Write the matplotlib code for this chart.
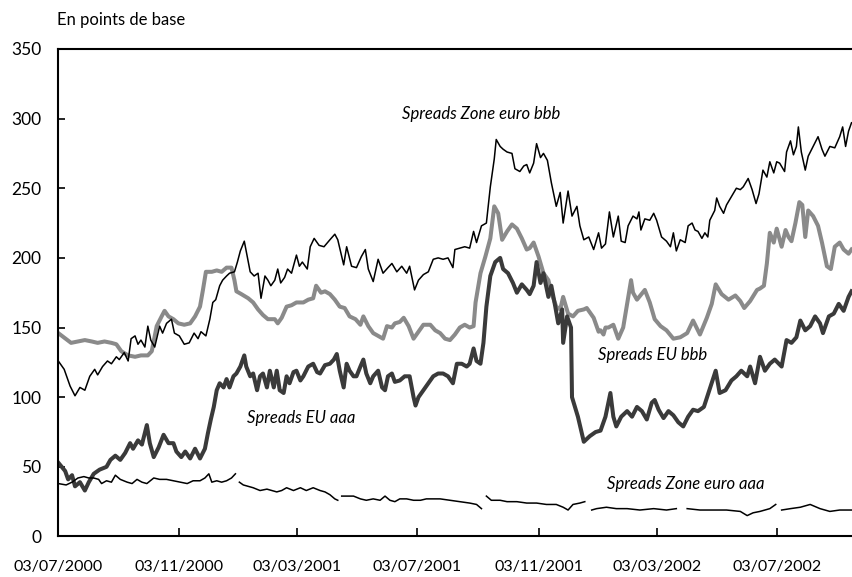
import matplotlib.pyplot as plt
import numpy as np
import pandas as pd

"""==============================================================
# Données (jours depuis le 03/07/2000, en points de base)
=============================================================="""
date_debut = "2000-07-03"
fin_jours = 806.5

# Spreads Zone euro bbb
jours_ze_bbb = [0, 6, 12, 17, 22, 27, 32, 37, 40, 45, 50, 54, 59, 62, 67, 71,
                74, 78, 81, 84, 88, 91, 94, 98, 103, 106, 110, 115, 118, 123,
                128, 133, 138, 142, 145, 150, 154, 157, 160, 164, 167, 171, 174,
                179, 182, 185, 189, 192, 195, 199, 203, 206, 210, 213, 216, 220,
                223, 226, 230, 233, 237, 242, 245, 248, 253, 256, 260, 265, 270,
                276, 281, 284, 290, 293, 298, 303, 308, 312, 315, 320, 325, 330,
                335, 339, 344, 349, 354, 357, 362, 366, 371, 376, 381, 386, 391,
                396, 401, 403, 408, 413, 418, 422, 425, 430, 435, 439, 443, 445,
                449, 452, 456, 461, 464, 469, 473, 476, 479, 483, 486, 490, 493,
                497, 501, 506, 510, 513, 518, 522, 527, 530, 534, 539, 544, 549,
                552, 556, 560, 564, 569, 572, 576, 579, 584, 588, 590, 592, 596,
                601, 605, 608, 613, 618, 622, 625, 628, 632, 637, 640, 644, 647,
                650, 654, 657, 660, 662, 667, 669, 672, 676, 679, 684, 689, 693,
                696, 701, 705, 709, 712, 716, 720, 723, 727, 730, 733, 738, 740,
                744, 747, 750, 752, 755, 759, 762, 767, 772, 776, 779, 784, 789,
                794, 797, 800, 803, 806]
ze_bbb = [126, 120, 108, 101, 107, 105, 115, 120, 116, 122, 126, 124, 129, 127,
          132, 126, 142, 144, 138, 141, 136, 151, 141, 136, 151, 146, 153, 156,
          146, 144, 138, 139, 146, 142, 147, 144, 156, 168, 170, 180, 184, 187,
          189, 190, 197, 205, 212, 201, 190, 187, 189, 171, 187, 184, 180, 184,
          192, 182, 186, 192, 189, 202, 194, 197, 192, 208, 214, 209, 208, 213,
          217, 213, 195, 208, 194, 193, 201, 206, 192, 183, 199, 189, 193, 196,
          190, 194, 189, 194, 177, 184, 188, 190, 199, 200, 199, 200, 193, 206,
          207, 208, 207, 219, 211, 223, 225, 251, 271, 285, 280, 278, 276, 275,
          264, 262, 266, 267, 261, 268, 282, 272, 275, 270, 254, 237, 247, 225,
          248, 230, 237, 223, 213, 215, 206, 218, 207, 210, 233, 215, 230, 212,
          211, 223, 230, 228, 233, 220, 228, 227, 232, 227, 215, 212, 208, 218,
          205, 213, 211, 223, 225, 220, 219, 214, 218, 215, 227, 234, 243, 237,
          232, 238, 244, 250, 249, 251, 257, 249, 239, 246, 263, 258, 269, 261,
          269, 268, 262, 276, 284, 274, 280, 294, 276, 263, 273, 280, 287, 278,
          273, 280, 279, 287, 294, 280, 291, 297]

# Spreads EU bbb
jours_eu_bbb = [0, 13, 20, 27, 34, 40, 47, 54, 59, 64, 71, 78, 84, 91, 95, 100,
                105, 108, 112, 117, 122, 128, 134, 139, 144, 147, 150, 156, 161,
                166, 171, 176, 179, 181, 186, 193, 198, 203, 208, 213, 220, 223,
                227, 232, 237, 242, 249, 254, 259, 262, 267, 271, 276, 281, 286,
                291, 296, 302, 307, 310, 315, 320, 325, 330, 334, 339, 342, 347,
                351, 356, 361, 366, 371, 378, 383, 388, 393, 398, 403, 408, 413,
                418, 422, 424, 429, 434, 439, 443, 447, 451, 456, 461, 466, 471,
                476, 479, 483, 488, 493, 498, 501, 506, 510, 513, 518, 523, 528,
                534, 537, 544, 549, 551, 554, 556, 559, 564, 569, 574, 582, 584,
                588, 596, 601, 606, 612, 618, 625, 632, 639, 645, 652, 659, 664,
                668, 674, 681, 688, 693, 697, 703, 710, 713, 717, 720, 723, 727,
                730, 735, 739, 742, 745, 749, 753, 756, 759, 762, 767, 772, 776,
                781, 785, 789, 794, 798, 803, 806]
eu_bbb = [146, 139, 140, 141, 140, 139, 140, 139, 138, 133, 130, 129, 130, 130,
          133, 151, 158, 162, 158, 156, 153, 152, 153, 158, 165, 177, 190, 190,
          191, 190, 193, 193, 184, 176, 174, 171, 168, 163, 159, 156, 156, 153,
          157, 165, 166, 168, 168, 170, 171, 180, 175, 176, 174, 170, 165, 164,
          158, 156, 152, 158, 151, 146, 144, 142, 151, 150, 153, 154, 157, 151,
          142, 147, 152, 152, 148, 146, 142, 141, 145, 150, 152, 150, 151, 168,
          189, 201, 214, 237, 232, 213, 219, 224, 221, 214, 206, 207, 211, 201,
          189, 184, 175, 165, 163, 172, 160, 158, 162, 163, 164, 157, 147, 148,
          145, 150, 150, 152, 142, 150, 184, 175, 170, 177, 168, 156, 151, 148,
          142, 143, 146, 155, 145, 157, 167, 181, 174, 170, 173, 169, 164, 169,
          177, 178, 180, 196, 218, 211, 221, 208, 220, 215, 212, 225, 240, 238,
          215, 234, 230, 223, 211, 194, 192, 208, 211, 206, 203, 206]

# Spreads EU aaa
jours_eu_aaa = [0, 7, 10, 14, 17, 22, 27, 31, 36, 42, 49, 53, 58, 63, 68, 73,
                76, 81, 85, 90, 93, 97, 102, 107, 112, 117, 120, 125, 129, 134,
                139, 144, 149, 152, 155, 158, 161, 164, 168, 171, 174, 178, 181,
                185, 189, 191, 195, 198, 202, 205, 208, 212, 215, 219, 222, 225,
                229, 232, 235, 239, 242, 246, 249, 254, 259, 263, 266, 271, 276,
                280, 283, 286, 290, 293, 296, 300, 303, 307, 310, 313, 317, 320,
                325, 329, 332, 335, 339, 342, 347, 352, 357, 361, 363, 366, 371,
                376, 381, 386, 391, 396, 401, 405, 410, 415, 418, 422, 425, 429,
                432, 435, 439, 444, 449, 452, 457, 462, 466, 471, 476, 479, 483,
                486, 490, 493, 498, 501, 505, 508, 512, 513, 517, 521, 522, 528,
                534, 540, 546, 551, 556, 561, 564, 567, 572, 578, 583, 588, 593,
                598, 603, 606, 610, 615, 620, 625, 630, 635, 640, 645, 650, 656,
                662, 668, 672, 678, 684, 689, 694, 700, 703, 708, 713, 718, 723,
                728, 735, 740, 745, 750, 754, 759, 764, 769, 774, 777, 783, 788,
                793, 798, 803, 806]
eu_aaa = [53, 47, 41, 44, 36, 39, 33, 39, 45, 48, 50, 55, 58, 55, 60, 67, 63,
          69, 66, 80, 67, 57, 64, 73, 67, 67, 61, 57, 61, 56, 63, 56, 63, 74,
          84, 93, 105, 110, 107, 113, 107, 115, 117, 122, 130, 122, 115, 117,
          105, 115, 117, 107, 119, 107, 119, 105, 103, 115, 110, 118, 119, 112,
          115, 122, 124, 118, 117, 123, 124, 127, 131, 119, 107, 124, 119, 115,
          115, 122, 127, 117, 110, 115, 119, 107, 105, 115, 117, 111, 112, 115,
          115, 100, 94, 100, 105, 110, 115, 117, 117, 115, 110, 124, 124, 122,
          124, 135, 126, 124, 139, 165, 187, 197, 200, 192, 189, 182, 175, 181,
          177, 174, 180, 197, 182, 189, 172, 180, 165, 153, 163, 139, 158, 150,
          100, 86, 68, 72, 75, 76, 86, 103, 86, 79, 86, 90, 86, 93, 90, 84, 96,
          98, 91, 85, 90, 87, 82, 79, 86, 91, 90, 93, 106, 119, 103, 105, 112,
          115, 119, 115, 122, 110, 129, 119, 124, 127, 122, 141, 139, 143, 155,
          148, 151, 158, 153, 146, 158, 160, 167, 162, 172, 176]

# Spreads Zone euro aaa (les trous sont des valeurs manquantes)
jours_ze_aaa = [0, 8, 14, 20, 26, 31, 36, 41, 44, 49, 54, 58, 63, 70, 75, 80,
                85, 90, 97, 103, 110, 117, 124, 131, 137, 144, 149, 153, 156,
                161, 166, 171, 176, 180, 181, 184, 188, 193, 198, 205, 212, 217,
                222, 227, 232, 239, 246, 252, 259, 266, 271, 276, 281, 284, 286,
                288, 293, 300, 307, 313, 320, 327, 332, 337, 342, 347, 354, 361,
                368, 374, 378, 388, 398, 408, 418, 425, 430, 432, 435, 440, 449,
                456, 466, 476, 486, 496, 506, 513, 518, 523, 530, 535, 538, 542,
                547, 557, 567, 578, 591, 605, 618, 628, 635, 639, 652, 666, 679,
                693, 700, 706, 713, 723, 729, 732, 735, 744, 754, 764, 774, 784,
                794, 806]
ze_aaa = [38, 37, 39, 42, 43, 42, 42, 41, 38, 40, 39, 44, 41, 39, 38, 41, 39,
          38, 42, 41, 41, 40, 39, 38, 40, 40, 42, 45, 39, 40, 39, 40, 42, 45,
          np.nan, 39, 37, 36, 35, 33, 34, 33, 32, 33, 35, 33, 35, 33, 35, 33,
          32, 30, 27, 26, np.nan, 29, 29, 29, 27, 26, 27, 26, 29, 26, 25, 27,
          27, 26, 26, 27, 27, 27, 26, 25, 24, 23, 20, np.nan, 29, 26, 26, 25,
          25, 24, 24, 23, 23, 21, 19, 23, 24, 25, np.nan, 19, 20, 21, 20, 20,
          19, 20, 19, 20, np.nan, 20, 19, 19, 19, 18, 15, 17, 18, 20, 23,
          np.nan, 19, 20, 21, 23, 20, 18, 19, 19]

etiquettes_x = ["03/07/2000", "03/11/2000", "03/03/2001", "03/07/2001",
                "03/11/2001", "03/03/2002", "03/07/2002"]
graduations_y = [0, 50, 100, 150, 200, 250, 300, 350]


def en_dates(jours):
    return pd.Timestamp(date_debut) + pd.to_timedelta(jours, unit="D")


"""==============================================================
# Figure
=============================================================="""
plt.rcParams["font.family"] = ["Lato", "DejaVu Sans"]

fig = plt.figure(figsize=(8.52, 5.77), dpi=100)
ax = fig.add_axes([0.0684, 0.0702, 0.9316, 0.845])

ax.plot(en_dates(jours_eu_bbb), eu_bbb, color="#8a8a8a", lw=2.9,
        solid_joinstyle="round")
ax.plot(en_dates(jours_eu_aaa), eu_aaa, color="#3a3a3a", lw=2.9,
        solid_joinstyle="round")
ax.plot(en_dates(jours_ze_bbb), ze_bbb, color="black", lw=1.1)
ax.plot(en_dates(jours_ze_aaa), ze_aaa, color="black", lw=1.1)

ax.set_xlim(pd.Timestamp(date_debut),
            pd.Timestamp(date_debut) + pd.Timedelta(days=fin_jours))
ax.set_ylim(0, 350)

ax.set_xticks(pd.to_datetime(etiquettes_x, dayfirst=True))
ax.set_xticklabels(etiquettes_x)
ax.set_yticks(graduations_y)

ax.tick_params(axis="x", direction="in", length=5.5, width=1.2, pad=17,
               labelsize=11.5)
ax.tick_params(axis="y", direction="in", length=5, width=1.2, pad=12,
               labelsize=12.5)

for side in ["left", "bottom", "top"]:
    ax.spines[side].set_linewidth(1.5)
ax.spines["right"].set_visible(False)

# libellés des séries
ax.text(pd.Timestamp("2001-06-17"), 303, "Spreads Zone euro bbb",
        style="italic", fontsize=12, ha="left", va="center")
ax.text(pd.Timestamp("2002-01-02"), 130, "Spreads EU bbb",
        style="italic", fontsize=12, ha="left", va="center")
ax.text(pd.Timestamp("2001-01-11"), 85, "Spreads EU aaa",
        style="italic", fontsize=12, ha="left", va="center")
ax.text(pd.Timestamp("2002-01-12"), 38, "Spreads Zone euro aaa",
        style="italic", fontsize=12, ha="left", va="center")

fig.text(57 / 852, 1 - 20 / 577, "En points de base", fontsize=12,
         ha="left", va="center")

fig.savefig("out.png", dpi=100)
